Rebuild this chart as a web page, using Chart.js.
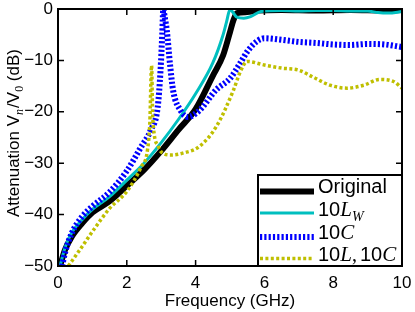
<!DOCTYPE html>
<html>
<head>
<meta charset="utf-8">
<script src="https://cdn.jsdelivr.net/npm/chart.js@4/dist/chart.umd.min.js"></script>
<style>
  html, body { margin: 0; padding: 0; background: #fff; }
  canvas { display: block; }
</style>
</head>
<body>
<canvas id="attChart" width="415" height="312"></canvas>
<script>
// series, frequency in GHz and attenuation in dB
const origFreq = [0.06, 0.2, 0.4, 0.7, 1.0, 1.5, 2.0, 2.5, 3.0, 3.5, 4.0, 4.5, 4.8, 5.0, 5.1, 5.2, 5.5, 5.8, 6.5, 7.5, 8.5, 9.5, 10];
const origDb = [-50, -46.9, -44.3, -41.7, -39.6, -37.4, -34.4, -31.3, -27.6, -23.5, -19.5, -13, -9, -4.5, -2.2, -0.8, -0.6, -0.3, -0.2, -0.3, -0.2, -0.3, -0.2];

const lwFreq = [0.06, 0.2, 0.4, 0.7, 1.0, 1.5, 2.0, 2.5, 3.0, 3.5, 4.0, 4.5, 4.8, 4.9, 5.0, 5.1, 5.2, 5.4, 5.6, 5.9, 6.5, 7.0, 7.5, 8.0, 8.5, 9.0, 9.3, 9.6, 10];
const lwDb = [-50, -46.5, -43.5, -41, -39, -36.5, -33.3, -30, -26, -21.5, -16.5, -10.5, -5, -2.5, -0.1, -0.8, -1.6, -1.8, -1.5, -0.5, -0.3, -0.4, -0.3, -0.3, -0.4, -0.4, -0.7, -0.8, -0.5];

const cFreq = [0.12, 0.2, 0.4, 0.7, 1.0, 1.5, 2.0, 2.4, 2.7, 2.9, 2.98, 3.03, 3.06, 3.1, 3.16, 3.26, 3.35, 3.55, 3.78, 4.1, 4.6, 5.0, 5.3, 5.5, 5.8, 6.0, 6.5, 7.0, 7.5, 8.0, 8.5, 9.0, 9.5, 10];
const cDb = [-50, -47.5, -43.6, -40.4, -38.4, -35.6, -31.5, -27, -23.5, -19, -12, -5, 0, -1.5, -4, -11, -16, -19.6, -21, -19.8, -15.7, -13.5, -10.5, -8.3, -6.2, -5.7, -6, -6.4, -6.6, -6.9, -7, -6.8, -6.9, -7.4];

const lcFreq = [0.3, 0.63, 1.0, 1.5, 2.0, 2.42, 2.6, 2.67, 2.72, 2.75, 2.8, 2.9, 3.0, 3.3, 3.65, 4.1, 4.6, 5.1, 5.3, 5.5, 6.0, 6.5, 7.0, 7.4, 7.9, 8.4, 8.9, 9.35, 9.75, 10];
const lcDb = [-50, -46.9, -43.3, -38.8, -35.5, -30.7, -27.5, -22, -11, -20, -24.5, -26.5, -27.8, -28.4, -28, -26.8, -22.9, -15.8, -12.2, -10.2, -10.9, -11.5, -11.9, -13.2, -14.8, -15.4, -14.8, -13.7, -14.1, -15.4];

const xTicks = [0, 2, 4, 6, 8, 10];
const yTicks = [0, -10, -20, -30, -40, -50];

const SANS = '"Liberation Sans", Arial, sans-serif';
const SERIF = '"Liberation Serif", "Times New Roman", serif';

function pts(xs, ys) {
  return xs.map((x, i) => ({ x: x, y: ys[i] }));
}

// text made of runs (for italic maths and subscripts)
function runsWidth(c, runs) {
  let w = 0;
  runs.forEach(r => { c.font = r.font; w += c.measureText(r.t).width + (r.gap || 0); });
  return w;
}
function drawRuns(c, runs, x, y) {
  runs.forEach(r => {
    c.font = r.font;
    c.fillText(r.t, x, y + (r.dy || 0));
    x += c.measureText(r.t).width + (r.gap || 0);
  });
}

const legendRows = [
  [{ t: 'Original', font: '20px ' + SANS }],
  [{ t: '10', font: '20px ' + SANS }, { t: 'L', font: 'italic 21px ' + SERIF }, { t: 'W', font: 'italic 14px ' + SERIF, dy: 5 }],
  [{ t: '10', font: '20px ' + SANS }, { t: 'C', font: 'italic 21px ' + SERIF }],
  [{ t: '10', font: '20px ' + SANS }, { t: 'L', font: 'italic 21px ' + SERIF }, { t: ',', font: '20px ' + SERIF, gap: 3 }, { t: '10', font: '20px ' + SANS }, { t: 'C', font: 'italic 21px ' + SERIF }]
];

const yTitle = [
  { t: 'Attenuation ', font: '17px ' + SANS },
  { t: 'V', font: '17px ' + SANS },
  { t: 'n', font: 'italic 12px ' + SERIF, dy: 4, gap: 1 },
  { t: '/', font: '17px ' + SANS },
  { t: 'V', font: '17px ' + SANS },
  { t: '0', font: '12px ' + SERIF, dy: 4 },
  { t: ' (dB)', font: '17px ' + SANS }
];

const framePlugin = {
  id: 'frame',
  afterDatasetsDraw(chart) {
    const c = chart.ctx;
    const a = chart.chartArea;
    const xs = chart.scales.x, ys = chart.scales.y;
    c.save();
    c.strokeStyle = '#000';
    c.lineWidth = 2;
    c.setLineDash([]);
    c.strokeRect(a.left, a.top, a.right - a.left, a.bottom - a.top);

    // inward ticks on all four sides
    c.lineWidth = 1.5;
    c.beginPath();
    xTicks.forEach(v => {
      const px = xs.getPixelForValue(v);
      c.moveTo(px, a.bottom); c.lineTo(px, a.bottom - 6);
      c.moveTo(px, a.top); c.lineTo(px, a.top + 6);
    });
    yTicks.forEach(v => {
      const py = ys.getPixelForValue(v);
      c.moveTo(a.left, py); c.lineTo(a.left + 6, py);
      c.moveTo(a.right, py); c.lineTo(a.right - 6, py);
    });
    c.stroke();

    // legend
    const lx = 258, ly = 175;
    c.fillStyle = '#fff';
    c.fillRect(lx, ly, a.right - lx, a.bottom - ly);
    c.lineWidth = 2;
    c.strokeRect(lx, ly, a.right - lx, a.bottom - ly);
    const sampleY = [191.5, 213, 237, 258.5];
    const baseY = [192.5, 215.5, 238.5, 260.5];
    chart.data.datasets.forEach((ds, i) => {
      c.strokeStyle = ds.borderColor;
      c.lineWidth = ds.borderWidth;
      c.setLineDash(ds.borderDash || []);
      c.beginPath();
      c.moveTo(260, sampleY[i]);
      c.lineTo(314, sampleY[i]);
      c.stroke();
      c.setLineDash([]);
      c.fillStyle = '#000';
      c.textBaseline = 'alphabetic';
      c.textAlign = 'left';
      drawRuns(c, legendRows[i], 318, baseY[i]);
    });

    // axis titles
    c.fillStyle = '#000';
    c.textAlign = 'center';
    c.textBaseline = 'middle';
    c.font = '17px ' + SANS;
    c.fillText('Frequency (GHz)', (a.left + a.right) / 2, 301);

    c.translate(19, 133);
    c.rotate(-Math.PI / 2);
    c.textAlign = 'left';
    c.textBaseline = 'alphabetic';
    drawRuns(c, yTitle, -runsWidth(c, yTitle) / 2, 0);
    c.restore();
  }
};

Chart.defaults.font.family = SANS;
Chart.defaults.font.size = 17;
Chart.defaults.color = '#000';

new Chart(document.getElementById('attChart'), {
  type: 'line',
  data: {
    datasets: [{
      label: 'Original',
      data: pts(origFreq, origDb),
      borderColor: '#000000',
      borderWidth: 6,
      order: 4
    }, {
      label: '10L_W',
      data: pts(lwFreq, lwDb),
      borderColor: '#00bfbf',
      borderWidth: 3,
      order: 3
    }, {
      label: '10C',
      data: pts(cFreq, cDb),
      borderColor: '#0000ff',
      borderWidth: 6,
      borderDash: [2.2, 2.1],
      order: 2
    }, {
      label: '10L,10C',
      data: pts(lcFreq, lcDb),
      borderColor: '#bfbf00',
      borderWidth: 3.5,
      borderDash: [3, 2.4],
      order: 1
    }]
  },
  options: {
    responsive: false,
    animation: false,
    layout: { padding: { top: 9, right: 13, left: 0, bottom: 0 } },
    elements: {
      point: { radius: 0 },
      line: { fill: false, cubicInterpolationMode: 'monotone', borderCapStyle: 'butt' }
    },
    plugins: { legend: { display: false }, tooltip: { enabled: false } },
    scales: {
      x: {
        type: 'linear',
        min: 0, max: 10,
        afterBuildTicks: s => { s.ticks = xTicks.map(v => ({ value: v })); },
        ticks: { padding: 7, maxRotation: 0 },
        grid: { display: false, drawTicks: false },
        border: { display: false },
        afterFit: s => { s.height = 46; s.paddingLeft = 0; s.paddingRight = 0; }
      },
      y: {
        type: 'linear',
        min: -50, max: 0,
        afterBuildTicks: s => { s.ticks = yTicks.map(v => ({ value: v })); },
        ticks: {
          padding: 5,
          callback: v => v < 0 ? '\u2212' + Math.abs(v) : String(v)
        },
        grid: { display: false, drawTicks: false },
        border: { display: false },
        afterFit: s => { s.width = 58; s.paddingTop = 0; s.paddingBottom = 0; }
      }
    }
  },
  plugins: [framePlugin]
});
</script>
</body>
</html>
